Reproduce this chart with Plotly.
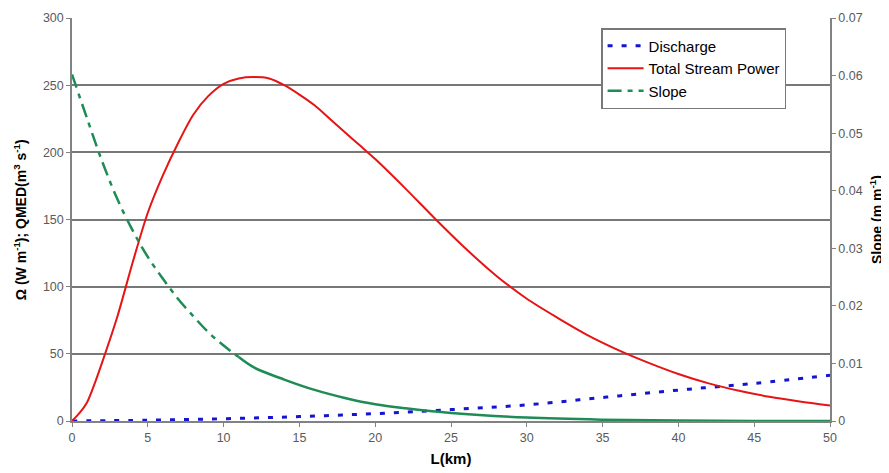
import plotly.graph_objects as go

# Distance along channel (km)
L_power = [0, 0.5, 1, 1.5, 2, 3, 4, 5, 6, 7, 8, 9, 10, 11, 12, 13, 14, 15, 16, 17, 18, 19, 20,
           22, 24, 26, 28, 30, 32, 34, 36, 38, 40, 42, 44, 46, 48, 50]
stream_power = [0, 6, 14, 28, 44, 78, 118, 155, 183, 207, 228, 242, 251, 255, 256, 255, 250, 243,
                235, 225, 215, 205, 195, 173, 150, 128, 108, 91, 77, 64, 53, 43.5, 35, 28, 22.5,
                18, 14.5, 11.5]

L_q = [0, 5, 10, 15, 20, 25, 30, 35, 40, 45, 50]
discharge = [0, 0.6, 1.7, 3.3, 5.5, 8.5, 12, 17.5, 23, 28, 34]

L_s = [0, 1, 2, 3, 4, 5, 6, 7, 8, 9, 10, 11, 12, 14, 16, 18, 20, 22, 25, 30, 35, 40, 45, 50]
slope = [0.0602, 0.0525, 0.0450, 0.0385, 0.0331, 0.0285, 0.0247, 0.0212, 0.0182, 0.0154, 0.0131,
         0.0111, 0.0093, 0.0072, 0.0054, 0.0040, 0.0029, 0.0022, 0.0014, 0.0006, 0.00023, 0.00007,
         0.00002, 0.0]
slope_dash_end = 11  # dashes visible up to here, appears solid beyond

y_left_ticks = [0, 50, 100, 150, 200, 250, 300]
y_right_ticks = [0, 0.01, 0.02, 0.03, 0.04, 0.05, 0.06, 0.07]
y_right_labels = ["0", "0.01", "0.02", "0.03", "0.04", "0.05", "0.06", "0.07"]
x_ticks = [0, 5, 10, 15, 20, 25, 30, 35, 40, 45, 50]

FONT = "Liberation Sans, Arial, sans-serif"
GREEN = "rgb(30,140,85)"

fig = go.Figure()

fig.add_trace(go.Scatter(x=L_q, y=discharge, mode="lines", name="Discharge", legendgroup="q",
                         line=dict(color="rgb(20,20,210)", width=3, dash="5px,9px", shape="spline")))
fig.add_trace(go.Scatter(x=L_power, y=stream_power, mode="lines", name="Total Stream Power",
                         legendgroup="p",
                         line=dict(color="rgb(230,20,20)", width=2, shape="spline", smoothing=0.8)))

idx = [i for i, v in enumerate(L_s) if v <= slope_dash_end]
fig.add_trace(go.Scatter(x=[L_s[i] for i in idx], y=[slope[i] for i in idx], mode="lines",
                         name="Slope", yaxis="y2", legendgroup="s",
                         line=dict(color=GREEN, width=2.5, dash="14px,6px,5px,6px", shape="spline")))
idx2 = [i for i, v in enumerate(L_s) if v >= slope_dash_end]
fig.add_trace(go.Scatter(x=[L_s[i] for i in idx2], y=[slope[i] for i in idx2], mode="lines",
                         name="Slope", yaxis="y2", showlegend=False, legendgroup="s",
                         line=dict(color=GREEN, width=2.5, shape="spline")))

axis_common = dict(showline=True, linecolor="rgb(130,130,130)", linewidth=1.5,
                   ticks="outside", tickcolor="rgb(130,130,130)", ticklen=4,
                   automargin=False,
                   tickfont=dict(family=FONT, size=12.5, color="rgb(90,90,90)"))

# page body has an 8px margin, so the figure is sized to fit the 889x473 window
fig.update_layout(
    width=881, height=465,
    margin=dict(l=64, r=59, t=10, b=52),
    paper_bgcolor="white", plot_bgcolor="white",
    font=dict(family=FONT),
    xaxis=dict(range=[0, 50], tickvals=x_ticks, showgrid=False, zeroline=False,
               title=dict(text="<b>L(km)</b>", font=dict(family=FONT, size=15, color="black"),
                          standoff=10),
               **axis_common),
    yaxis=dict(range=[0, 300], tickvals=y_left_ticks, showgrid=True,
               gridcolor="rgb(120,120,120)", gridwidth=1.5, zeroline=False,
               **axis_common),
    yaxis2=dict(range=[0, 0.07], tickvals=y_right_ticks, ticktext=y_right_labels,
                overlaying="y", side="right", showgrid=False, zeroline=False,
                **axis_common),
    legend=dict(x=0.698, y=0.975, xanchor="left", yanchor="top",
                bgcolor="white", bordercolor="rgb(120,120,120)", borderwidth=1.5,
                font=dict(family=FONT, size=15, color="black"),
                tracegroupgap=0, itemwidth=36),
    showlegend=True,
    annotations=[
        dict(text="<b>Ω (W m<sup>-1</sup>); QMED(m<sup>3</sup> s<sup>-1</sup>)</b>",
             xref="paper", yref="paper", x=-0.069, y=0.5, xanchor="center", yanchor="middle",
             textangle=-90, showarrow=False, font=dict(family=FONT, size=14, color="black")),
        dict(text="<b>Slope (m m<sup>-1</sup>)</b>",
             xref="paper", yref="paper", x=1.06, y=0.5, xanchor="center", yanchor="middle",
             textangle=-90, showarrow=False, font=dict(family=FONT, size=14, color="black")),
    ],
)

fig.write_html("out.html")
